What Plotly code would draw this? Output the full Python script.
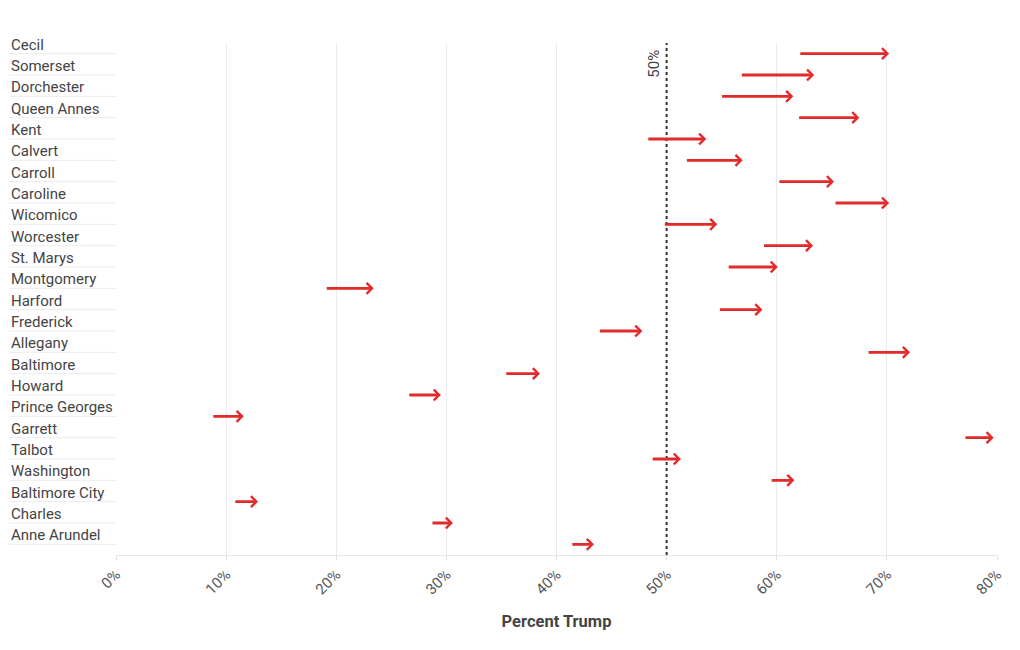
import plotly.graph_objects as go

counties = ["Cecil", "Somerset", "Dorchester", "Queen Annes", "Kent", "Calvert", "Carroll",
            "Caroline", "Wicomico", "Worcester", "St. Marys", "Montgomery", "Harford",
            "Frederick", "Allegany", "Baltimore", "Howard", "Prince Georges", "Garrett",
            "Talbot", "Washington", "Baltimore City", "Charles", "Anne Arundel"]
pct_from = [62.0, 56.7, 54.9, 61.9, 48.2, 51.7, 60.1, 65.2, 49.7, 58.7, 55.5, 19.0,
            54.7, 43.8, 68.2, 35.3, 26.5, 8.7, 77.0, 48.6, 59.4, 10.7, 28.6, 41.3]
pct_to = [70.2, 63.4, 61.5, 67.5, 53.6, 56.9, 65.2, 70.2, 54.6, 63.3, 60.1, 23.4,
          58.7, 47.8, 72.1, 38.5, 29.5, 11.6, 79.7, 51.3, 61.6, 12.9, 30.6, 43.4]
tick_vals = [0, 10, 20, 30, 40, 50, 60, 70, 80]
tick_text = [f"{v}%" for v in tick_vals]

RED = "#e32a2a"
FONT = "Roboto"

fig = go.Figure()
# invisible trace to establish axes
fig.add_trace(go.Scatter(x=pct_from + pct_to, y=list(range(len(counties))) * 2,
                         mode="markers", marker=dict(opacity=0), hoverinfo="skip",
                         showlegend=False))

annotations = []
shapes = []
for i, (name, a, b) in enumerate(zip(counties, pct_from, pct_to)):
    annotations.append(dict(x=b, y=i, ax=a, ay=i, xref="x", yref="y", axref="x", ayref="y",
                            text="", showarrow=True, arrowhead=4, arrowwidth=2.8,
                            arrowsize=0.75, arrowcolor=RED, standoff=0))
    annotations.append(dict(x=-0.1215, xref="paper", y=i - 0.42, yref="y", text=name,
                            showarrow=False, xanchor="left", yanchor="middle",
                            font=dict(family=FONT, size=15, color="#444")))
    shapes.append(dict(type="line", xref="paper", yref="y", x0=-0.1215, x1=0, y0=i, y1=i,
                       line=dict(color="#ececec", width=1)))

shapes.append(dict(type="line", xref="x", yref="paper", x0=50, x1=50, y0=0, y1=1,
                   line=dict(color="#333", width=2, dash="dot")))
annotations.append(dict(x=50, xref="x", y=1, yref="paper", text="50%", showarrow=False,
                        textangle=-90, xanchor="right", yanchor="top", xshift=-2, yshift=-5,
                        font=dict(family=FONT, size=15, color="#444")))

fig.update_layout(
    width=1020, height=650,
    margin=dict(l=108, r=31, t=35, b=103),
    plot_bgcolor="white", paper_bgcolor="white",
    font=dict(family=FONT, color="#555"),
    showlegend=False,
    annotations=annotations, shapes=shapes,
    xaxis=dict(range=[0, 80], tickvals=tick_vals, ticktext=tick_text, tickangle=-45,
               showgrid=True, gridcolor="#ececec", gridwidth=1, zeroline=False,
               showline=True, linecolor="#e6e6e6", linewidth=1,
               ticks="outside", ticklen=4, tickcolor="#e0e0e0",
               tickfont=dict(family=FONT, size=15, color="#555"),
               title=dict(text="<b>Percent Trump</b>", standoff=18,
                          font=dict(family=FONT, size=16.5, color="#444"))),
    yaxis=dict(range=[len(counties) - 0.5, -0.5], showticklabels=False, showgrid=False,
               zeroline=False, showline=False, ticks=""),
)

fig.write_html("out.html")
